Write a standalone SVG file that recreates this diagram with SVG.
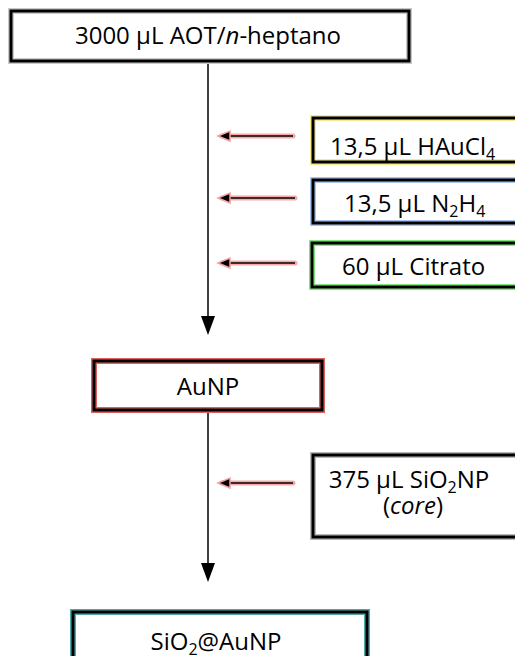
<svg xmlns="http://www.w3.org/2000/svg" width="515" height="656" viewBox="0 0 515 656">
<style>
.t{font-family:"Open Sans","Noto Sans","Liberation Sans",sans-serif;font-size:24px;fill:#000}
.s{font-size:16px}
.bk{fill:none;stroke:#000;stroke-width:3}
.gl{fill:#fff;stroke-width:6}
.ln{stroke:#000;stroke-width:1.5;fill:none}
.rg{stroke:#f6a8a8;stroke-width:5;fill:none;stroke-linecap:round}
.ah{fill:#000;stroke:#f4a0a0;stroke-width:1.5}
</style>
<rect width="515" height="656" fill="#fff"/>
<g id="connectors">
<line class="ln" x1="208" y1="62" x2="208" y2="316"/>
<path d="M201,316 L215,316 L208,335 Z" fill="#000"/>
<line class="ln" x1="208" y1="412" x2="208" y2="563"/>
<path d="M201,563 L215,563 L208,582 Z" fill="#000"/>
<line class="rg" x1="222" y1="136" x2="293" y2="136"/>
<line class="ln" x1="228" y1="136" x2="293" y2="136"/>
<path class="ah" d="M218,136 L230,131 L230,141 Z"/>
<line class="rg" x1="222" y1="198" x2="295" y2="198"/>
<line class="ln" x1="228" y1="198" x2="295" y2="198"/>
<path class="ah" d="M218,198 L230,193 L230,203 Z"/>
<line class="rg" x1="222" y1="263" x2="295" y2="263"/>
<line class="ln" x1="228" y1="263" x2="295" y2="263"/>
<path class="ah" d="M218,263 L230,258 L230,268 Z"/>
<line class="rg" x1="222" y1="483" x2="293" y2="483"/>
<line class="ln" x1="228" y1="483" x2="293" y2="483"/>
<path class="ah" d="M218,483 L230,478 L230,488 Z"/>
</g>
<g id="n-aot">
<rect class="gl" x="11" y="11" width="398" height="50" stroke="#c8c8c8"/>
<rect class="bk" x="11" y="11" width="398" height="50"/>
<text class="t" x="208" y="44" text-anchor="middle">3000 µL AOT/<tspan font-style="italic">n</tspan>-heptano</text>
</g>
<g id="n-haucl4">
<rect class="gl" x="313" y="118" width="215" height="44" stroke="#f5eb8c"/>
<rect class="bk" x="313" y="118" width="215" height="44"/>
<text class="t" x="330" y="155">13,5 µL HAuCl<tspan class="s" dy="5">4</tspan></text>
</g>
<g id="n-n2h4">
<rect class="gl" x="313" y="180" width="215" height="43" stroke="#a8c4f0"/>
<rect class="bk" x="313" y="180" width="215" height="43"/>
<text class="t" x="344" y="212">13,5 µL N<tspan class="s" dy="5">2</tspan><tspan dy="-5">H</tspan><tspan class="s" dy="5">4</tspan></text>
</g>
<g id="n-citrato">
<rect class="gl" x="312" y="243" width="215" height="44" stroke="#7ee87e"/>
<rect class="bk" x="312" y="243" width="215" height="44"/>
<text class="t" x="342" y="275">60 µL Citrato</text>
</g>
<g id="n-aunp">
<rect class="gl" x="94" y="361" width="228" height="49" stroke="#e06060"/>
<rect class="bk" x="94" y="361" width="228" height="49"/>
<text class="t" x="208" y="395" text-anchor="middle">AuNP</text>
</g>
<g id="n-sio2np">
<rect class="gl" x="313" y="455" width="215" height="82" stroke="#b8b8b8"/>
<rect class="bk" x="313" y="455" width="215" height="82"/>
<text class="t" x="409" y="488" text-anchor="middle">375 µL SiO<tspan class="s" dy="5">2</tspan><tspan dy="-5">NP</tspan></text>
<text class="t" x="413" y="514" text-anchor="middle">(<tspan font-style="italic">core</tspan>)</text>
</g>
<g id="n-sio2aunp">
<rect class="gl" x="73" y="612" width="294" height="60" stroke="#50a8a8"/>
<rect class="bk" x="73" y="612" width="294" height="60"/>
<text class="t" x="216" y="650" text-anchor="middle">SiO<tspan class="s" dy="5">2</tspan><tspan dy="-5">@AuNP</tspan></text>
</g>
</svg>
